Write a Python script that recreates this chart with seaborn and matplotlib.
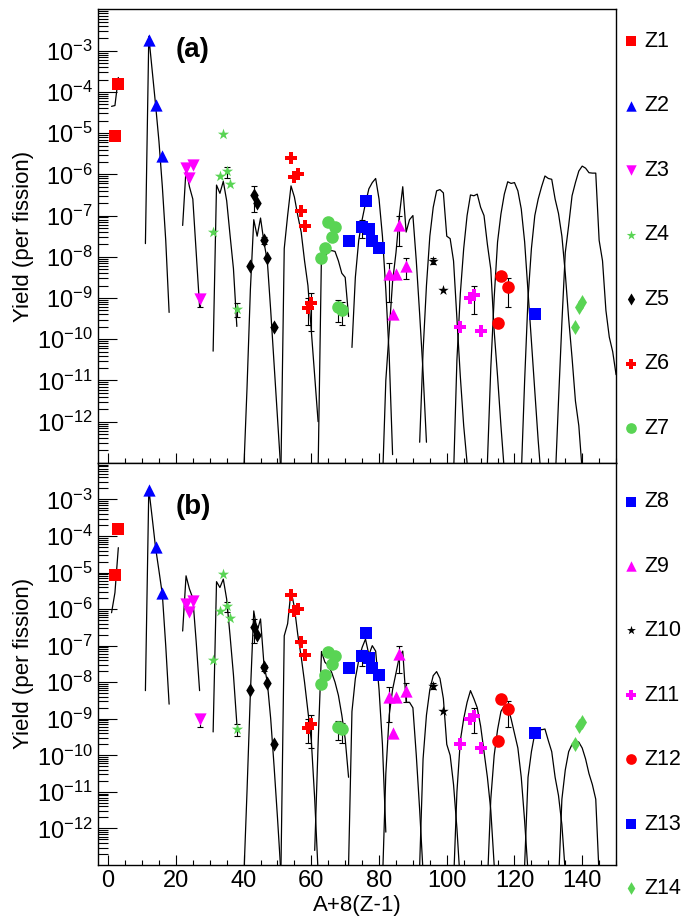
import numpy as np
import pandas as pd
import matplotlib
matplotlib.use("Agg")
import matplotlib.pyplot as plt
import seaborn as sns
from matplotlib.ticker import FixedLocator, LogLocator, MultipleLocator, FuncFormatter, NullFormatter

# measured yields per fission, x = A+8(Z-1)
exp_z = [1, 1,
         2, 2, 2,
         3, 3, 3, 3,
         4, 4, 4, 4, 4, 4,
         5, 5, 5, 5, 5, 5,
         6, 6, 6, 6, 6, 6, 6,
         7, 7, 7, 7, 7, 7, 7,
         8, 8, 8, 8, 8, 8,
         9, 9, 9, 9, 9,
         10, 10,
         11, 11, 11, 11,
         12, 12, 12,
         13,
         14, 14, 14]
exp_x = [2, 3,
         12, 14, 16,
         23, 24, 25, 27,
         31, 33, 34, 35, 36, 38,
         42, 43, 44, 46, 47, 49,
         54, 55, 56, 57, 58, 59, 60,
         63, 64, 65, 66, 67, 68, 69,
         71, 75, 76, 77, 78, 80,
         83, 84, 85, 86, 88,
         96, 99,
         104, 107, 108, 110,
         115, 116, 118,
         126,
         138, 139, 140]
exp_y = [8.5e-6, 1.6e-4,
         1.8e-3, 4.9e-5, 2.8e-6,
         1.4e-6, 8.3e-7, 1.7e-6, 9.6e-10,
         4.1e-8, 8.9e-7, 9.3e-6, 1.2e-6, 5.8e-7, 5.4e-10,
         6.0e-9, 3.2e-7, 2.0e-7, 2.6e-8, 9.3e-9, 2.0e-10,
         2.5e-6, 8.7e-7, 1.0e-6, 1.26e-7, 5.5e-8, 5.6e-10, 7.4e-10,
         9.1e-9, 1.6e-8, 6.9e-8, 3.1e-8, 5.2e-8, 5.9e-10, 5.1e-10,
         2.4e-8, 5.2e-8, 2.2e-7, 4.6e-8, 2.4e-8, 1.6e-8,
         3.9e-9, 4.1e-10, 3.9e-9, 5.8e-8, 5.9e-9,
         7.8e-9, 1.6e-9,
         2.0e-10, 1.0e-9, 1.2e-9, 1.6e-10,
         2.5e-10, 3.5e-9, 1.8e-9,
         4.1e-10,
         2.0e-10, 6.2e-10, 8.1e-10]

# error bars (low, high)
err_x = [27, 35, 38, 43, 46, 59, 60, 68, 69, 75, 77, 78, 83, 86, 88, 96, 108, 118]
err_lo = [6.0e-10, 8.3e-7, 3.4e-10, 1.2e-7, 2.0e-8, 2.2e-10, 1.6e-10, 2.6e-10, 2.2e-10,
          2.8e-8, 4.0e-8, 2.1e-8, 8.1e-10, 1.8e-8, 2.9e-9, 6.5e-9, 4.1e-10, 6.0e-10]
err_hi = [1.2e-9, 1.55e-6, 7.4e-10, 5.2e-7, 3.0e-8, 9.8e-10, 1.3e-9, 8.9e-10, 7.9e-10,
          7.6e-8, 5.0e-8, 2.6e-8, 7.2e-9, 1.0e-7, 9.3e-9, 9.5e-9, 2.0e-9, 3.1e-9]

# calculated yields, log10, one list per Z starting at calc_start
nan = np.nan
calc_start = [1, 11, 22, 31, 40, 51, 61, 71, 81, 92, 102, 112, 122, 132]
calc_a = [
    [-4.35, -4.33, -3.65],
    [-7.68, -2.65, -3.48, -4.31, -5.2, -6.3, -7.6, -9.35],
    [-7.24, -5.87, -6.3, -6.6, -7.9, -9.21],
    [-10.29, -6.26, -6.46, -6.17, -6.64, -7.48, -8.29, -9.69],
    [-13.3, -11.2, -8.8, -7.1, -7.5, -7.06, -7.64, -8.1, -9.3, -10.6, -11.9, -13.2],
    [-13.3, -7.8, -7.0, -6.28, -6.55, -7.0, -7.4, -8.1, -8.7, -9.8, -10.9, -12.0],
    [nan, -13.2, -7.9, -8.0, -7.87, -7.85, -7.87, -8.1, -8.4, -8.5, -9.45],
    [nan, -10.2, -8.5, -7.6, -7.1, -6.7, -6.35, -6.2, -6.1, -6.6, -7.5, -8.8, -10.4, -12.8],
    [-13.5, -11.0, -9.8, -8.6, -7.9, -7.0, -6.3, -7.4, -7.1, -7.0, -8.1, -9.4, -10.8, -12.5],
    [-12.5, -10.3, -8.7, -7.5, -6.8, -6.4, -6.37, -6.45, -7.5, -7.56, -8.1, -9.5, -10.9, -12.1, -13.0],
    [-13.3, -10.5, -8.9, -7.8, -7.0, -6.5, -6.52, -6.48, -6.8, -7.0, -7.7, -8.3, -9.8, -10.9, -12.1, -13.2],
    [-13.0, -10.7, -9.0, -7.64, -6.96, -6.48, -6.18, -6.22, -6.2, -6.4, -6.84, -7.64, -8.85, -10.05,
     -11.26, -12.46, -13.5],
    [-13.3, -11.0, -9.0, -7.8, -7.0, -6.6, -6.3, -6.04, -6.1, -6.12, -6.6, -6.95, -7.5, -8.4, -9.5,
     -10.45, -11.5, -12.1, -13.2],
    [-13.5, -11.5, -9.6, -7.9, -7.24, -6.52, -6.2, -5.92, -5.8, -5.85, -5.96, -5.97, -5.97, -7.6,
     -8.1, -9.3, -9.95, -10.3, -10.86],
]
calc_b = [
    [-6.1, -5.55, -4.32],
    [-8.23, -2.71, -3.5, -4.32, -4.95, -5.6, -7.0, -8.6],
    [-6.6, -5.09, -5.45, -5.7, -6.9, -8.23],
    [-9.36, -5.25, -5.41, -5.18, -5.73, -6.73, -7.8, -9.14],
    [-13.5, -11.0, -8.3, -6.05, -6.6, -6.27, -7.5, -8.0, -9.0, -10.3, -11.7, -13.2],
    [-13.3, -6.73, -6.4, -5.5, -5.95, -6.7, -7.3, -8.0, -8.8, -9.6, -11.2, -13.2],
    [-12.6, -9.7, -7.16, -7.45, -7.55, -7.73, -8.0, -8.36, -8.9, -9.55, -10.6],
    [-13.0, -8.8, -7.9, -7.4, -7.05, -6.82, -7.25, -7.0, -7.15, -8.2, -9.7, -12.1],
    [-13.5, -10.5, -8.9, -8.2, -7.75, -7.3, -7.15, -8.55, -8.55, -8.7, -10.0, -11.5, -13.2],
    [-13.0, -10.1, -8.9, -8.2, -7.82, -7.71, -7.9, -8.45, -9.7, -10.0, -10.8, -12.0, -13.5],
    [-13.5, -11.0, -9.6, -9.0, -8.55, -8.23, -8.45, -8.7, -9.2, -9.9, -10.6, -11.5, -13.0],
    [-13.5, -11.2, -10.0, -9.3, -8.8, -8.64, -8.66, -9.0, -9.4, -9.8, -10.6, -11.8, -13.2],
    [nan, -13.0, -10.6, -9.9, -9.4, -9.25, -9.3, -9.28, -9.6, -9.9, -10.6, -11.1, -11.9, -13.2],
    [nan, -13.5, -11.2, -10.4, -9.9, -9.7, -9.6, -9.64, -9.8, -10.1, -10.5, -10.8, -11.2, -13.3],
]

markers = {1: "s", 2: "^", 3: "v", 4: "*", 5: "d", 6: "P", 7: "o",
           8: "s", 9: "^", 10: "*", 11: "P", 12: "o", 13: "s", 14: "d"}
green = "#59d454"
colors = {1: "#ff0000", 2: "#0000ff", 3: "#ff00ff", 4: green, 5: "black", 6: "#ff0000", 7: green,
          8: "#0000ff", 9: "#ff00ff", 10: "black", 11: "#ff00ff", 12: "#ff0000", 13: "#0000ff", 14: green}
sizes = {1: 64, 2: 78, 3: 78, 4: 72, 5: 52, 6: 82, 7: 82,
         8: 64, 9: 78, 10: 62, 11: 82, 12: 82, 13: 64, 14: 58}


def curve_frame(calc):
    rows = []
    for z, (x0, vals) in enumerate(zip(calc_start, calc), start=1):
        for i, v in enumerate(vals):
            if not np.isnan(v):
                rows.append((z, x0 + i, 10.0 ** v))
    return pd.DataFrame(rows, columns=["Z", "x", "y"])


exp_df = pd.DataFrame({"Z": exp_z, "x": exp_x, "y": exp_y})

sns.set_style("ticks")
plt.rcParams["font.family"] = ["Liberation Sans", "DejaVu Sans"]
plt.rcParams["mathtext.fontset"] = "custom"
plt.rcParams["mathtext.rm"] = "Liberation Sans"
plt.rcParams["mathtext.default"] = "regular"
plt.rcParams["text.color"] = "black"
plt.rcParams["axes.labelcolor"] = "black"
plt.rcParams["xtick.color"] = "black"
plt.rcParams["ytick.color"] = "black"

fig = plt.figure(figsize=(6.83, 9.22), dpi=100)
ax_a = fig.add_axes([0.1435, 0.498, 0.7585, 0.4917])
ax_b = fig.add_axes([0.1435, 0.0618, 0.7585, 0.4362])


def draw_panel(ax, calc, zs, tag, show_x, leg_y):
    sns.lineplot(data=curve_frame(calc), x="x", y="y", units="Z", estimator=None,
                 color="black", linewidth=0.9, legend=False, ax=ax)
    lo = np.array(err_lo)
    hi = np.array(err_hi)
    mid = np.sqrt(lo * hi)
    ax.errorbar(err_x, mid, yerr=[mid - lo, hi - mid], fmt="none", ecolor="black",
                elinewidth=0.8, capsize=2.5, capthick=0.8, zorder=3)
    for z in range(1, 15):
        sub = exp_df[exp_df["Z"] == z]
        sns.scatterplot(data=sub, x="x", y="y", marker=markers[z], color=colors[z],
                        s=sizes[z], linewidth=0, label=f"Z{z}", ax=ax, zorder=4)
    ax.set_yscale("log")
    ax.set_xlim(-3, 150)
    ax.set_ylim(1e-13, 1e-2)
    ax.yaxis.set_major_locator(FixedLocator([10.0 ** k for k in range(-12, -2)]))
    ax.yaxis.set_major_formatter(FuncFormatter(lambda v, p: r"$10^{%d}$" % round(np.log10(v))))
    ax.yaxis.set_minor_locator(LogLocator(base=10, subs=range(2, 10), numticks=30))
    ax.yaxis.set_minor_formatter(NullFormatter())
    ax.xaxis.set_major_locator(MultipleLocator(20))
    ax.xaxis.set_minor_locator(MultipleLocator(5))
    ax.tick_params(axis="y", which="major", direction="in", length=14, width=0.8, labelsize=17, pad=4)
    ax.tick_params(axis="y", which="minor", direction="in", length=7, width=0.8)
    ax.tick_params(axis="x", which="major", direction="in", length=7, width=0.8, labelsize=17)
    ax.tick_params(axis="x", which="minor", direction="in", length=3.5, width=0.8)
    if show_x:
        ax.set_xlabel("A+8(Z-1)", fontsize=16, labelpad=2)
    else:
        ax.set_xlabel("")
        ax.tick_params(axis="x", labelbottom=False)
    ax.set_ylabel("Yield (per fission)", fontsize=16, labelpad=2)
    for s in ax.spines.values():
        s.set_linewidth(1.0)
        s.set_color("black")
    ax.text(0.15, 0.91 if tag == "(a)" else 0.89, tag, transform=ax.transAxes,
            fontsize=20, fontweight="bold", va="center", ha="left")
    handles, labels = ax.get_legend_handles_labels()
    pick = [labels.index(f"Z{z}") for z in zs]
    ax.legend([handles[i] for i in pick], [labels[i] for i in pick],
              loc="upper left", bbox_to_anchor=(1.0, leg_y), frameon=False,
              fontsize=15.5, labelspacing=2.02, handlelength=0.6, handletextpad=0.3,
              borderaxespad=0.0, markerscale=0.85)


draw_panel(ax_a, calc_a, range(1, 8), "(a)", False, 0.972)
draw_panel(ax_b, calc_b, range(8, 15), "(b)", True, 0.951)

fig.savefig("out.png", dpi=100)
